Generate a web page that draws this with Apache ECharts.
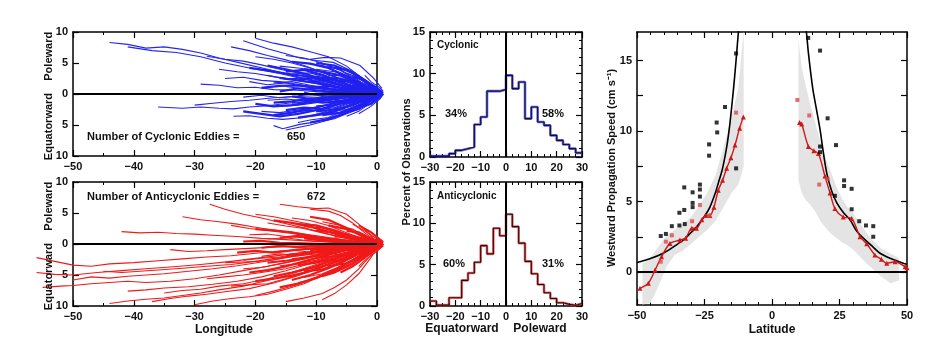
<!DOCTYPE html>
<html>
<head>
<meta charset="utf-8">
<script src="https://cdn.jsdelivr.net/npm/echarts@6/dist/echarts.min.js"></script>
<style>
  html, body { margin: 0; background: #fff; }
  #main { width: 940px; height: 338px; }
</style>
</head>
<body>
<div id="main"></div>
<script>
// ---------- data ----------
const cyclonicCount = 650
const anticyclonicCount = 672

// eddy tracks: flat lists of lon,lat pairs (degrees relative to origin)
const cyclonicTracks = [
  [-44,8.3, -41,8.0, -38,7.4, -35,7.6, -32,7.2, -29,6.6, -26,5.8, -22,4.9, -18,4.0, -14,3.0, -10,2.0, -6,1.1, -3,0.5, 0,0],
  [-41,7.6, -37,7.0, -33,6.7, -29,6.0, -25,5.0, -21,4.2, -16,3.3, -11,2.2, -6,1.0, 0,0],
  [-22,8.6, -18,7.3, -15,6.5, -12.7,5.8, -10,5.4, -7.2,5.1, -3.9,3.6, -1.5,2.0, 0,0],
  [-20,9.0, -17,8.2, -14,7.6, -11,6.8, -8,6.0, -5,4.5, -2,2.2, 0,0],
  [-11,5.6, -8.5,5.9, -6,5.8, -2.8,4.6, -0.6,2.6, 0.8,0.9],
  [-24,7.6, -21,7.0, -18,6.2, -15,5.5, -12,4.6, -9,3.5, -5,2.0, -2,0.8, 0,0],
  [-28,6.1, -25,5.6, -22,5.3, -19,4.7, -16,4.0, -13,3.4, -9,2.3, -5,1.2, 0,0],
  [-29,1.6, -26,1.4, -23,1.0, -20,1.1, -17,0.7, -13,0.6, -9,0.3, -5,0.2, 0,0],
  [-36,-2.1, -32,-2.3, -29,-2.1, -26,-2.3, -23.6,-2.4, -21,-2.1, -18,-1.9, -14,-1.4, -10,-1.0, -6,-0.5, 0,0],
  [-30,-1.8, -27,-1.5, -24,-1.2, -21,-1.0, -17,-0.6, -13,-0.4, -8,-0.2, 0,0],
  [-23.6,-3.6, -21,-3.5, -18,-3.9, -15.5,-4.1, -12,-3.8, -9,-3.0, -6,-2.0, -3,-1.0, 0,0],
  [-17,-5.1, -15.5,-5.6, -12.7,-4.9, -10,-4.5, -7.2,-3.9, -5,-3.1, -2.8,-2.4, -1,-1.0, 0,0],
  [-15,-5.8, -13,-5.4, -11,-5.0, -8,-4.2, -5,-3.0, -2,-1.4, 0,0],
  [-13,-4.6, -11,-4.2, -8,-3.8, -6,-2.9, -3,-1.8, 0,0],
  [-26,4.0, -23,3.6, -20,3.3, -17,2.8, -13,2.2, -9,1.5, -5,0.8, 0,0],
  [-25,2.5, -22,2.7, -19,2.2, -16,2.0, -12,1.4, -8,0.9, -4,0.4, 0,0],
  [-22,-0.5, -19,-0.2, -16,-0.6, -13,-0.3, -10,0.1, -6,-0.1, -3,0.1, 0,0],
  [-20,6.0, -17,5.6, -14,5.0, -11,4.2, -8,3.2, -5,2.0, -2,0.8, 0,0],
  [-19,-2.8, -16,-3.0, -13,-2.6, -10,-2.2, -7,-1.5, -4,-0.8, 0,0],
  [-18,3.0, -15,2.4, -12,2.6, -9,1.9, -6,1.1, -3,0.5, 0,0],
  [-16,4.5, -13,4.2, -10,3.8, -7,2.8, -4,1.6, 0,0],
  [-15,1.2, -12,0.8, -9,1.0, -6,0.6, -3,0.3, 0,0],
  [-14,-1.5, -11,-1.2, -8,-1.0, -5,-0.5, -2,-0.2, 0,0],
  [-14,3.2, -11,3.4, -8,2.6, -5,1.6, -2,0.7, 0,0],
  [-13,-2.8, -10,-2.6, -7,-2.2, -4,-1.2, -1,-0.3, 0,0],
  [-12,5.0, -9,4.6, -6,3.9, -3,2.2, 0,0],
  [-12,0.3, -9,-0.4, -6,-0.2, -3,-0.1, 0,0],
  [-11,2.0, -8,2.2, -5,1.3, -2,0.5, 0,0],
  [-11,-3.6, -8,-3.2, -5,-2.2, -2,-1.0, 0,0],
  [-10,4.0, -7,3.6, -4,2.6, -1,0.9, 0,0],
  [-10,-1.9, -7,-1.8, -4,-1.0, -1,-0.3, 0,0],
  [-9,1.4, -6,1.8, -3,1.0, 0,0],
  [-9,-0.8, -6,-1.0, -3,-0.6, 0,0],
  [-8,3.0, -5,2.9, -2,1.6, 0,0.2],
  [-8,-2.8, -5,-2.5, -2,-1.3, 0,0],
  [-7,0.6, -4,0.9, -1,0.3, 0,0],
  [-6,4.2, -4,3.6, -2,2.3, 0,0.5],
  [-6,-1.6, -3,-1.4, -1,-0.6, 0,0],
  [-16,-2.0, -13,-1.8, -10,-1.4, -7,-0.8, -3,-0.3, 0,0],
  [-17,1.8, -14,2.0, -11,1.4, -8,1.0, -4,0.5, 0,0],
  [-5,3.4, -3,2.6, -1,1.2, 0.8,0.3],
  [-5,-3.6, -3,-2.8, -1,-1.4, 0.5,-0.2],
  [-4,1.6, -2,1.4, 0,0.4, 1,0],
  [-4,-2.2, -2,-1.6, 0,-0.5, 1,0],
  [-18,-1.0, -15,-0.8, -12,-1.1, -8,-0.6, -4,-0.2, 0,0],
  [-21,2.0, -18,1.5, -15,1.8, -12,1.2, -8,0.7, -4,0.3, 0,0],
  [-15,6.2, -12,5.8, -9,5.0, -6,3.8, -3,2.0, 0,0],
  [-9,-4.4, -7,-4.0, -4,-2.8, -2,-1.5, 0,0],
  [-2,3.0, -1,2.0, 0.5,1.0, 1,0.5],
  [-3,-3.2, -1,-2.0, 0.5,-0.8, 1,0]
]
// densely packed short tracks near the origin
const cyclonicCoreTracks = [
  [-18,4.6, -15,4.0, -12,3.3, -9,2.4, -6,1.4, -3,0.6, 0,0],
  [-17,-3.4, -14,-3.0, -11,-2.4, -8,-1.7, -5,-1.0, -2,-0.3, 0,0],
  [-16,0.4, -13,0.9, -10,0.6, -7,0.3, -4,0.1, 0,0],
  [-15,3.6, -12,3.9, -9,3.1, -6,2.0, -3,0.9, 0,0],
  [-15,-2.6, -12,-2.2, -9,-2.4, -6,-1.5, -3,-0.6, 0,0],
  [-14,5.2, -11,4.9, -8,4.2, -5,2.9, -2,1.2, 0,0],
  [-14,-0.4, -11,-0.8, -8,-0.5, -5,-0.3, -2,0, 0,0],
  [-13,2.2, -10,2.8, -7,2.2, -4,1.2, -1,0.3, 0,0],
  [-13,-3.8, -10,-3.4, -7,-2.8, -4,-1.6, -1,-0.4, 0,0],
  [-12,4.0, -9,3.6, -6,3.0, -3,1.6, 0,0.2],
  [-12,-1.0, -9,-1.4, -6,-1.2, -3,-0.5, 0,0],
  [-11,1.0, -8,1.3, -5,0.8, -2,0.3, 0,0],
  [-11,-4.6, -8,-4.0, -5,-3.0, -2,-1.4, 0,0],
  [-10,5.0, -7,4.6, -4,3.4, -1,1.2, 0.5,0.2],
  [-10,-2.8, -7,-2.5, -4,-1.8, -1,-0.6, 0,0],
  [-9,2.6, -6,2.5, -3,1.6, 0,0.3],
  [-9,-3.4, -6,-3.0, -3,-2.0, 0,-0.4],
  [-8,0.2, -5,0.5, -2,0.2, 0,0],
  [-8,4.4, -5,3.9, -2,2.2, 0,0.6],
  [-7,-1.1, -4,-1.3, -1,-0.5, 0.5,0],
  [-7,2.2, -4,2.0, -1,0.8, 0.5,0.1],
  [-6,-3.2, -3,-2.4, -1,-1.1, 0.5,-0.1],
  [-5,1.2, -3,1.3, -1,0.6, 1,0],
  [-5,-0.5, -3,-0.7, -1,-0.3, 1,0],
  [-4,2.8, -2,2.2, 0,1.0, 1,0.2],
  [-4,-1.4, -2,-1.2, 0,-0.5, 1,0],
  [-3,0.6, -1,0.4, 1,0.1],
  [-3,-2.2, -1,-1.6, 0.5,-0.5, 1,0],
  [-16,2.6, -13,2.2, -10,1.8, -7,1.2, -4,0.6, 0,0],
  [-17,-1.4, -14,-1.2, -11,-0.7, -8,-0.9, -4,-0.4, 0,0],
  [-19,1.0, -16,1.3, -13,1.4, -10,1.0, -6,0.5, -3,0.2, 0,0],
  [-20,-1.6, -17,-2.0, -14,-1.8, -10,-1.2, -6,-0.7, -3,-0.3, 0,0],
  [-21,4.2, -18,3.8, -15,3.3, -12,2.9, -8,1.9, -4,0.9, 0,0],
  [-22,-2.8, -19,-3.2, -16,-3.6, -13,-3.2, -9,-2.4, -5,-1.3, 0,0]
]

const anticyclonicTracks = [
  [-56,-2.2, -53,-2.8, -50,-3.4, -47,-3.6, -44,-3.2, -40,-3.0, -36,-2.7, -32,-2.4, -28,-2.1, -24,-1.9, -20,-1.5, -15,-1.1, -10,-0.7, -5,-0.3, 0,0],
  [-50,-5.8, -47,-5.3, -44,-5.5, -41,-5.2, -38,-5.0, -35,-4.8, -31,-4.4, -27,-4.0, -23,-3.5, -19,-2.9, -15,-2.2, -10,-1.4, -5,-0.6, 0,0],
  [-55,-7.0, -52,-6.8, -50,-6.7, -47,-6.4, -44,-6.2, -41,-6.0, -38,-6.2, -34,-6.0, -30,-5.6, -26,-5.0, -22,-4.3, -18,-3.6, -13,-2.6, -8,-1.5, -3,-0.5, 0,0],
  [-44,-9.6, -41,-9.2, -38,-8.9, -35,-8.7, -32,-8.3, -29,-7.9, -26,-7.4, -22,-6.8, -18,-5.9, -14,-4.8, -10,-3.5, -5,-1.8, 0,0],
  [-37,-9.3, -34,-8.8, -31,-8.4, -28,-8.1, -25,-7.7, -21,-7.2, -17,-6.3, -13,-5.1, -9,-3.7, -5,-2.2, -2,-0.8, 0,0],
  [-41,-7.6, -38,-7.4, -35,-7.1, -31,-6.9, -27,-6.5, -23,-6.0, -19,-5.3, -15,-4.3, -11,-3.2, -7,-2.0, -3,-0.8, 0,0],
  [-45,-4.4, -42,-4.6, -39,-4.4, -36,-4.2, -32,-3.9, -28,-3.6, -24,-3.3, -20,-2.8, -16,-2.2, -12,-1.6, -7,-0.9, -3,-0.3, 0,0],
  [-42,2.0, -39,1.8, -36,1.9, -33,1.7, -30,1.6, -27,1.4, -23,1.2, -19,0.9, -15,0.7, -10,0.4, -5,0.2, 0,0],
  [-32,4.4, -29,3.9, -26,3.6, -23,3.2, -20,2.7, -16,2.1, -12,1.5, -8,0.9, -4,0.4, 0,0],
  [-27.5,6.4, -25,5.6, -22,4.8, -19,4.2, -16,3.5, -12,2.6, -8,1.6, -4,0.7, 0,0],
  [-16,6.4, -13,6.0, -10,5.7, -8,5.8, -5,4.8, -3,3.2, -1,1.4, 0,0],
  [-11,5.6, -8,5.3, -6,4.6, -4,3.4, -2,1.8, 0,0.4],
  [-24,3.0, -21,2.5, -18,2.2, -14,1.7, -10,1.1, -5,0.5, 0,0],
  [-34,-0.9, -31,-1.2, -28,-1.1, -25,-0.9, -21,-0.7, -17,-0.5, -12,-0.3, -6,-0.1, 0,0],
  [-30,-9.8, -27,-9.2, -24,-8.8, -21,-8.5, -18,-8.1, -15,-7.3, -12,-6.4, -9,-5.1, -6,-3.7, -3,-2.0, 0,0],
  [-15,-9.3, -12,-8.7, -9,-8.0, -7,-7.0, -5,-5.8, -3,-4.0, -1,-1.8, 0,0],
  [-20,-8.3, -17,-7.6, -14,-6.8, -11,-5.9, -8,-4.6, -5,-3.2, -2,-1.4, 0,0],
  [-28,-5.6, -25,-5.3, -22,-5.0, -19,-4.6, -15,-4.0, -11,-3.0, -7,-2.0, -3,-0.9, 0,0],
  [-35,-7.9, -32,-7.5, -29,-7.3, -26,-6.8, -22,-6.4, -18,-5.6, -14,-4.6, -10,-3.3, -6,-2.0, -2,-0.6, 0,0],
  [-24,-6.8, -21,-6.6, -18,-6.4, -15,-5.6, -12,-4.6, -8,-3.2, -4,-1.6, 0,0],
  [-22,-2.6, -19,-2.3, -16,-2.1, -13,-1.6, -9,-1.1, -5,-0.5, 0,0],
  [-9,-9.0, -7,-8.0, -5,-6.6, -3,-4.8, -1,-2.2, 0,-0.6],
  [-18,0.8, -15,1.0, -12,0.6, -9,0.4, -5,0.2, 0,0],
  [-20,4.8, -17,4.4, -14,3.8, -11,3.2, -8,2.3, -5,1.4, -2,0.5, 0,0],
  [-56,-4.6, -53,-4.9, -50,-5.0, -46,-4.6, -42,-4.3, -38,-4.0, -34,-3.7, -29,-3.3, -24,-2.8, -19,-2.2, -14,-1.6, -9,-1.0, -4,-0.4, 0,0],
  [-18,3.4, -15,2.9, -12,2.5, -9,1.8, -6,1.1, -3,0.4, 0,0],
  [-17,-1.2, -14,-1.0, -11,-1.3, -8,-0.8, -4,-0.4, 0,0],
  [-16,-3.5, -13,-3.2, -10,-2.6, -7,-1.8, -4,-1.0, 0,0],
  [-15,2.0, -12,1.6, -9,1.2, -6,0.7, -3,0.3, 0,0],
  [-15,-4.8, -12,-4.2, -9,-3.6, -6,-2.4, -3,-1.2, 0,0],
  [-14,4.2, -11,3.8, -8,3.0, -5,1.8, -2,0.7, 0,0],
  [-14,-2.4, -11,-2.0, -8,-1.6, -5,-1.0, -2,-0.4, 0,0],
  [-13,0.2, -10,-0.2, -7,0.1, -4,-0.1, 0,0],
  [-12,-5.4, -9,-4.8, -6,-3.6, -3,-2.0, 0,-0.3],
  [-12,2.8, -9,2.6, -6,1.9, -3,0.9, 0,0],
  [-11,-3.8, -8,-3.4, -5,-2.4, -2,-1.1, 0,0],
  [-10,1.0, -7,0.9, -4,0.5, -1,0.1, 0,0],
  [-10,-1.4, -7,-1.2, -4,-0.7, -1,-0.2, 0,0],
  [-9,3.6, -6,3.0, -3,1.7, 0,0.3],
  [-9,-2.8, -6,-2.6, -3,-1.5, 0,-0.2],
  [-8,-4.6, -6,-4.0, -3,-2.4, -1,-0.9, 0.5,0],
  [-8,1.9, -5,1.6, -2,0.7, 0,0],
  [-7,-0.4, -4,-0.6, -1,-0.2, 0,0],
  [-6,2.8, -4,2.4, -2,1.3, 0,0.3],
  [-6,-3.4, -4,-2.8, -2,-1.6, 0,-0.4],
  [-5,0.9, -3,1.0, -1,0.4, 1,0],
  [-5,-1.9, -3,-1.6, -1,-0.7, 1,0],
  [-4,3.2, -2,2.1, 0,0.8, 1,0.2],
  [-19,-2.0, -16,-1.6, -13,-1.9, -10,-1.2, -6,-0.6, -2,-0.2, 0,0],
  [-21,1.5, -18,1.6, -15,1.2, -12,1.0, -8,0.5, -4,0.2, 0,0],
  [-22,-4.0, -19,-3.8, -16,-3.2, -12,-2.4, -8,-1.5, -4,-0.6, 0,0],
  [-3,-3.6, -2,-2.6, 0,-1.2, 1,-0.3],
  [-13,-6.2, -10,-5.6, -7,-4.4, -4,-2.7, -1,-0.9, 0,0],
  [-25,-3.0, -22,-2.9, -18,-2.7, -14,-2.0, -10,-1.6, -5,-0.8, 0,0]
]
const anticyclonicCoreTracks = [
  [-21,-4.6, -18,-4.2, -15,-3.6, -12,-2.8, -9,-2.0, -5,-1.0, 0,0],
  [-20,2.4, -17,2.2, -14,1.9, -11,1.3, -8,0.8, -4,0.3, 0,0],
  [-19,-0.6, -16,-0.3, -13,-0.5, -10,-0.4, -6,-0.2, 0,0],
  [-18,-3.0, -15,-2.7, -12,-2.3, -9,-1.6, -6,-1.0, -3,-0.4, 0,0],
  [-17,3.8, -14,3.4, -11,2.8, -8,2.0, -5,1.1, -2,0.4, 0,0],
  [-17,-5.2, -14,-4.6, -11,-3.9, -8,-2.9, -5,-1.7, -2,-0.6, 0,0],
  [-16,1.0, -13,1.3, -10,0.9, -7,0.5, -4,0.2, 0,0],
  [-15,-1.8, -12,-1.5, -9,-1.2, -6,-0.8, -3,-0.3, 0,0],
  [-14,-5.8, -11,-5.0, -8,-3.9, -5,-2.6, -2,-1.0, 0,0],
  [-13,3.2, -10,3.0, -7,2.2, -4,1.2, -1,0.3, 0,0],
  [-13,-3.4, -10,-3.0, -7,-2.3, -4,-1.3, -1,-0.4, 0,0],
  [-12,0.9, -9,0.6, -6,0.5, -3,0.2, 0,0],
  [-12,-4.4, -9,-4.1, -6,-3.0, -3,-1.6, 0,-0.2],
  [-11,4.4, -8,3.9, -5,2.6, -2,1.0, 0,0.3],
  [-11,-1.0, -8,-0.7, -5,-0.4, -2,-0.1, 0,0],
  [-10,-2.2, -7,-2.0, -4,-1.3, -1,-0.4, 0,0],
  [-10,2.2, -7,1.8, -4,1.0, -1,0.3, 0,0],
  [-9,-5.2, -7,-4.6, -4,-3.2, -2,-1.8, 0,-0.5],
  [-9,0.0, -6,0.2, -3,0.0, 0,0],
  [-8,-3.6, -5,-3.1, -2,-1.6, 0,-0.4],
  [-8,3.0, -5,2.4, -2,1.2, 0,0.3],
  [-7,-1.8, -4,-1.6, -1,-0.6, 0.5,0],
  [-7,1.2, -4,1.3, -1,0.5, 0.5,0],
  [-6,-4.6, -4,-3.6, -2,-2.2, 0,-0.7, 1,0],
  [-5,-0.9, -3,-0.9, -1,-0.4, 1,0],
  [-5,2.1, -3,1.9, -1,0.9, 1,0.2],
  [-4,-2.6, -2,-2.0, 0,-0.9, 1,-0.2],
  [-3,0.4, -1,0.4, 1,0],
  [-3,3.0, -1,1.9, 0.5,0.7, 1,0.3],
  [-2,-1.5, -1,-1.0, 0.5,-0.4, 1,0],
  [-22,0.4, -19,0.5, -16,0.2, -12,0.1, -8,0, -4,0, 0,0],
  [-23,-1.4, -20,-1.1, -17,-1.4, -13,-0.9, -9,-0.6, -5,-0.3, 0,0],
  [-20,-6.0, -17,-5.6, -14,-5.1, -11,-4.4, -8,-3.3, -4,-1.8, 0,0],
  [-16,-7.0, -13,-6.4, -10,-5.4, -7,-4.2, -4,-2.6, -1,-0.8, 0,0]
]

// histograms of meridional deflection, 2.5-degree bins (left edges)
const binEdges = [-30,-27.5,-25,-22.5,-20,-17.5,-15,-12.5,-10,-7.5,-5,-2.5,0,2.5,5,7.5,10,12.5,15,17.5,20,22.5,25,27.5]
const cyclonicPct = [0.1,0.1,0.1,0.4,0.8,1.0,1.2,3.9,4.8,7.9,7.9,8.1,9.8,8.2,9.0,4.6,6.0,4.2,3.8,2.6,2.0,1.5,1.0,0.5]
const anticyclonicPct = [0.6,0.1,0.1,1.0,1.0,3.1,4.0,5.3,7.3,6.3,9.4,8.5,11.1,9.6,7.6,5.4,3.9,2.6,1.6,0.9,0.4,0.2,0.1,0.3]
const pctLabels = { cyc: ['34%', '58%'], anti: ['60%', '31%'] }

// westward propagation speed vs latitude
const theoryLatS = [-50,-48.9,-45,-40.3,-36,-32.8,-30,-27.9,-25,-23,-21,-19.9,-18.5,-17.4,-16.5,-15.6,-14.3,-13.4,-12.5,-12]
const theorySpdS = [0.68,0.73,0.95,1.33,1.85,2.27,2.8,3.2,3.95,4.6,5.6,6.3,7.2,8.2,9.2,10.5,12.9,14.8,16.9,18]
const theoryLatN = [12,12.8,13.5,15.1,16.5,17.8,19,20.3,22,24,26.5,28.9,31,33.8,37,40,44,48.6,50]
const theorySpdN = [18,16.9,15.5,13,11.5,10.1,8.5,7.0,5.8,4.9,4.2,3.7,3.0,2.4,1.85,1.33,0.95,0.62,0.55]

const obsLatS = [-48.9,-45.8,-43.3,-40.9,-37.8,-34.1,-32,-29.7,-28,-26,-24.5,-23,-21.5,-19.9,-18.3,-16.8,-15.2,-13.7,-12,-10.6]
const obsSpdS = [-1.16,-0.8,0.14,1.09,2.03,2.27,2.4,3.1,3.1,3.7,4.0,4.0,4.6,5.8,6.5,7.35,8.1,9.0,10.2,11.0]
const obsLatN = [10.2,11.0,13.5,15.5,17.2,19.6,21.5,23.3,26.4,29.5,32.6,35.1,38.1,40.5,42.5,45.6,49.3,50]
const obsSpdN = [10.6,10.5,8.9,8.6,8.4,6.8,5.6,4.5,3.9,3.8,2.5,2.0,1.2,0.9,0.62,0.73,0.38,0.3]

const bandLatS = [-48,-45,-42,-39,-36,-33,-30,-27,-24,-21,-18,-15,-12.5,-11.5,-10.5]
const bandLowS = [-2.3,-2.2,-1.0,0.4,1.2,1.5,2.0,2.5,3.0,3.6,4.6,5.6,6.2,6.8,7.5]
const bandHighS = [0.6,1.0,1.8,2.6,3.0,3.4,3.9,4.7,5.6,6.8,8.8,11.0,13.0,15.0,17.2]
const bandLatN = [9.8,11,12.5,14,16,18,20,22,24,26,28,30,32,35,38,41,44,47]
const bandLowN = [6.5,5.6,5.1,4.8,4.3,3.6,3.1,2.7,2.4,2.1,1.9,1.6,1.2,0.6,0.1,-0.4,-0.8,-0.6]
const bandHighN = [16.5,14.5,13.2,12.0,10.6,9.2,8.0,7.0,6.0,5.2,4.6,4.2,3.6,2.8,2.1,1.6,1.3,1.0]

const dotLat = [-41.2,-39.3,-37.1,-34.3,-34.3,-32.5,-32.3,-32.5,-29.4,-29.4,-29.4,-26.7,-26.7,-26.7,-23.3,-23.3,-20.3,-20.5,-17.4,-13.3,-13.3,
                13.4,17.8,17.8,17.8,20.6,23.7,23.3,26.7,26.7,29.5,29.5,32.3,34.8,37.5,37.5]
const dotSpd = [2.55,2.7,3.25,3.3,4.2,4.4,3.4,6.0,5.65,4.9,4.6,6.2,5.85,5.35,9.05,8.25,9.9,10.6,11.7,7.35,15.5,
                16.6,15.7,8.9,8.5,10.9,9.0,5.4,6.5,6.1,5.9,4.45,3.6,3.3,3.25,2.5]
const redDotLat = [-41.2,-39.3,-37.1,-29.6,-26.7,-23.3,-13.3,9.4,13.8,17.5,20.6]
const redDotSpd = [0.73,2.15,2.6,3.6,4.75,4.0,11.3,12.2,11.1,6.2,6.6]

// ---------- chart ----------
const FONT = '"Liberation Sans", Arial, sans-serif'
const chart = echarts.init(document.getElementById('main'), null, { renderer: 'canvas' })

const pairs = t => { const o = []; for (let i = 0; i < t.length; i += 2) o.push([t[i], t[i + 1]]); return o }
const zip = (a, b) => a.map((v, i) => [v, b[i]])
const minus = v => (v < 0 ? '\u2212' + (-v) : String(v))

const grids = [
  { left: 73, top: 32, width: 304, height: 124 },
  { left: 73, top: 182, width: 304, height: 124 },
  { left: 430, top: 32, width: 152, height: 125 },
  { left: 430, top: 182, width: 152, height: 124 },
  { left: 637, top: 32, width: 270, height: 273 }
]

const xAxes = []
const yAxes = []
function frame(g, x, y) {
  const line = { show: true, onZero: false, lineStyle: { color: '#000', width: 1.5 } }
  const lab = { color: '#111', fontSize: 11, fontWeight: 'bold', fontFamily: FONT, margin: 5 }
  const minor = n => ({ show: n > 1, splitNumber: n || 1, length: 3, lineStyle: { color: '#000', width: 1 } })
  ;['bottom', 'top'].forEach((pos, k) => xAxes.push({
    type: 'value', gridIndex: g, position: pos, min: x.min, max: x.max, interval: x.interval,
    axisLine: line, splitLine: { show: false },
    axisTick: { show: true, inside: true, length: 6, lineStyle: { color: '#000', width: 1.2 } },
    minorTick: minor(x.minor), minorSplitLine: { show: false },
    axisLabel: k ? { show: false } : Object.assign({ formatter: x.fmt || minus }, lab)
  }))
  ;['left', 'right'].forEach((pos, k) => yAxes.push({
    type: 'value', gridIndex: g, position: pos, min: y.min, max: y.max, interval: y.interval,
    axisLine: line, splitLine: { show: false },
    axisTick: Object.assign({ show: true, inside: true, length: 6, lineStyle: { color: '#000', width: 1.2 } },
      y.ticks ? { customValues: y.ticks } : {}),
    minorTick: minor(y.minor), minorSplitLine: { show: false },
    axisLabel: k ? { show: false } : Object.assign({ formatter: y.fmt || minus }, lab,
      y.labels ? { customValues: y.labels } : {})
  }))
}
const absFmt = v => String(Math.abs(v))
frame(0, { min: -50, max: 0, interval: 10, minor: 2 }, { min: -10, max: 10, interval: 5, fmt: absFmt })
frame(1, { min: -50, max: 0, interval: 10, minor: 2 }, { min: -10, max: 10, interval: 5, fmt: absFmt })
frame(2, { min: -30, max: 30, interval: 10, minor: 4 }, { min: 0, max: 15, interval: 5, minor: 5 })
frame(3, { min: -30, max: 30, interval: 10, minor: 4 }, { min: 0, max: 15, interval: 5, minor: 5 })
frame(4, { min: -50, max: 50, interval: 25, minor: 5 },
  { min: -2.34, max: 17.02, ticks: [-2.5, 0, 2.5, 5, 7.5, 10, 12.5, 15], labels: [0, 5, 10, 15], fmt: v => String(v) })

const zeroLine = (xi, yi, axis) => ({
  type: 'line', xAxisIndex: xi, yAxisIndex: yi, data: [], z: 10,
  markLine: { silent: true, symbol: 'none', animation: false, label: { show: false },
    lineStyle: { color: '#000', width: 2, type: 'solid' }, data: [axis] }
})

const trackSeries = (tracks, g, color, width) => ({
  type: 'lines', coordinateSystem: 'cartesian2d', xAxisIndex: 2 * g, yAxisIndex: 2 * g,
  polyline: true, clip: false, silent: true, z: 2,
  lineStyle: { color: color, width: width, opacity: 1 },
  data: tracks.map(t => ({ coords: pairs(t) }))
})

const histData = pct => binEdges.map((e, i) => [e, pct[i]]).concat([[30, pct[pct.length - 1]]])
const histSeries = (pct, g, color) => [
  { type: 'line', xAxisIndex: 2 * g, yAxisIndex: 2 * g, step: 'end', symbol: 'none', data: histData(pct),
    lineStyle: { color: color, width: 2.6, opacity: 0.7 }, z: 3 },
  { type: 'line', xAxisIndex: 2 * g, yAxisIndex: 2 * g, step: 'end', symbol: 'none', data: histData(pct),
    lineStyle: { color: '#141414', width: 1.1 }, z: 4,
    markLine: { silent: true, symbol: 'none', label: { show: false },
      lineStyle: { color: '#000', width: 2, type: 'solid' }, data: [{ xAxis: 0 }] } }
]

// shaded range: polygon through (lat, low) then back along (lat, high)
const bandSeries = (lat, low, high) => ({
  type: 'custom', xAxisIndex: 8, yAxisIndex: 8, clip: true, silent: true, z: 1,
  data: [[lat[0], low[0]]],
  renderItem: (params, api) => {
    const pts = lat.map((v, i) => api.coord([v, low[i]]))
      .concat(lat.map((v, i) => api.coord([v, high[i]])).reverse())
    return { type: 'polygon', shape: { points: pts }, style: { fill: '#e4e4e4' } }
  }
})

const curve = (lat, spd, color, width, sym) => ({
  type: 'line', xAxisIndex: 8, yAxisIndex: 8, data: zip(lat, spd), smooth: 0.3, clip: true,
  symbol: sym || 'none', symbolSize: 5, itemStyle: { color: color },
  lineStyle: { color: color, width: width }, z: 5
})

const series = [
  trackSeries(cyclonicTracks, 0, '#2424f0', 1.1),
  trackSeries(cyclonicCoreTracks, 0, '#2020f0', 2.2),
  zeroLine(0, 0, { yAxis: 0 }),
  trackSeries(anticyclonicTracks, 1, '#f01a1a', 1.1),
  trackSeries(anticyclonicCoreTracks, 1, '#f01818', 2.2),
  zeroLine(2, 2, { yAxis: 0 }),
  ...histSeries(cyclonicPct, 2, '#2020ff'),
  ...histSeries(anticyclonicPct, 3, '#ff2020'),
  bandSeries(bandLatS, bandLowS, bandHighS),
  bandSeries(bandLatN, bandLowN, bandHighN),
  zeroLine(8, 8, { yAxis: 0 }),
  curve(theoryLatS, theorySpdS, '#000', 1.6),
  curve(theoryLatN, theorySpdN, '#000', 1.6),
  curve(obsLatS, obsSpdS, '#d01818', 1.4, 'triangle'),
  curve(obsLatN, obsSpdN, '#d01818', 1.4, 'triangle'),
  { type: 'scatter', xAxisIndex: 8, yAxisIndex: 8, data: zip(dotLat, dotSpd), symbol: 'rect', symbolSize: 4,
    itemStyle: { color: '#000' }, z: 6 },
  { type: 'scatter', xAxisIndex: 8, yAxisIndex: 8, data: zip(redDotLat, redDotSpd), symbol: 'rect', symbolSize: 4,
    itemStyle: { color: '#e04848' }, z: 6 }
]

const F = 'bold 11px ' + FONT
const txt = (x, y, text, opt) => ({
  type: 'text', x: x, y: y, silent: true, z: 100,
  style: Object.assign({ text: text, font: F, fill: '#111', textAlign: 'left', textVerticalAlign: 'middle' }, opt || {})
})
const vtxt = (x, y, text) => ({
  type: 'text', x: x, y: y, rotation: Math.PI / 2, silent: true, z: 100,
  style: { text: text, font: F, fill: '#111', textAlign: 'center', textVerticalAlign: 'middle' }
})

const graphics = [
  txt(87, 137, 'Number of Cyclonic Eddies ='),
  txt(287, 137, String(cyclonicCount)),
  txt(87, 197, 'Number of Anticyclonic Eddies ='),
  txt(307, 197, String(anticyclonicCount)),
  txt(437, 45, 'Cyclonic', { font: 'bold 10px ' + FONT }),
  txt(437, 196, 'Anticyclonic', { font: 'bold 10px ' + FONT }),
  txt(445, 114, pctLabels.cyc[0]),
  txt(542, 114, pctLabels.cyc[1]),
  txt(443, 264, pctLabels.anti[0]),
  txt(542, 264, pctLabels.anti[1]),
  vtxt(49, 96, 'Equatorward    Poleward'),
  vtxt(49, 246, 'Equatorward    Poleward'),
  vtxt(407, 162, 'Percent of Observations'),
  vtxt(612, 168, 'Westward Propagation Speed (cm s\u207B\u00B9)'),
  txt(224, 330, 'Longitude', { textAlign: 'center', font: 'bold 12px ' + FONT }),
  txt(772, 330, 'Latitude', { textAlign: 'center', font: 'bold 12px ' + FONT }),
  txt(462, 329, 'Equatorward', { textAlign: 'center', font: 'bold 12px ' + FONT }),
  txt(540, 329, 'Poleward', { textAlign: 'center', font: 'bold 12px ' + FONT })
]

chart.setOption({
  animation: false,
  backgroundColor: '#fff',
  grid: grids,
  xAxis: xAxes,
  yAxis: yAxes,
  series: series,
  graphic: { elements: graphics }
})
</script>
</body>
</html>
